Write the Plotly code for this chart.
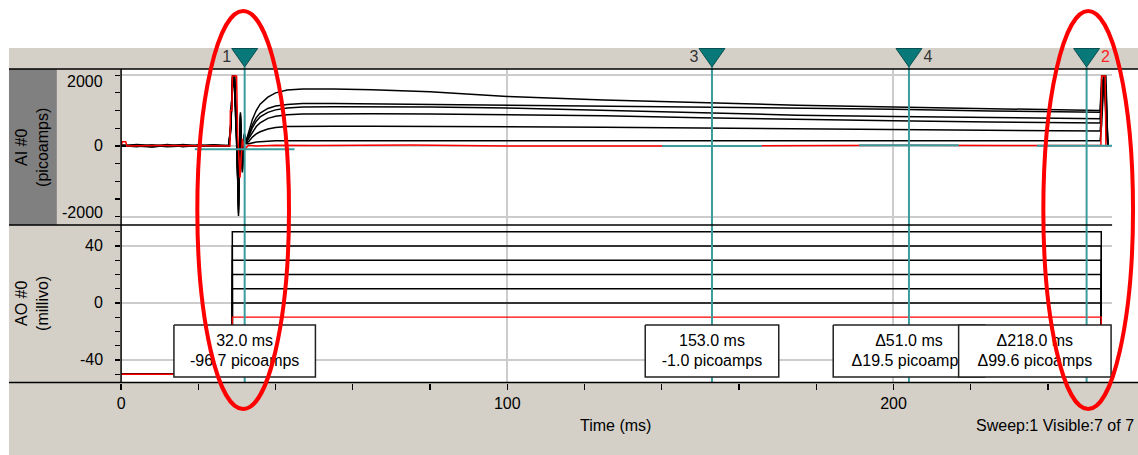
import plotly.graph_objects as go

W, H = 1138, 455

# ---------------- data ----------------
# AO command: holding potential and step levels of the 7 sweeps (sweep 1 = red)
ao_holding_mv = -50
ao_step_levels_mv = [-10, 0, 10, 20, 30, 40, 50]
ao_step_on_ms = 28.8
ao_step_off_ms = 253.8
sweep_end_ms = 256.6

# AI current, black sweeps 2..7 share this time base (ms)
ai_t_ms = [0, 4, 8, 12, 16, 20, 24, 27.9,
           28.4, 28.9, 29.4, 29.9, 30.4, 30.9, 31.4, 31.9, 32.4,
           33, 34, 35, 36, 38, 40, 43, 47,
           55, 65, 80, 100, 125, 150, 175, 200, 225, 250,
           253.5, 253.9, 254.5, 255.0, 255.5]
ai_sweep2_pa = [0, 30, -20, 20, 0, 30, -10, 0,
                400, 1980, 1500, 200, -1200, 600, -400, 200, 60,
                60, 90, 110, 120, 135, 145, 150, 150,
                150, 150, 145, 165, 160, 150, 145, 150, 150, 150,
                150, 600, 1980, 800, 0]
ai_sweep3_pa = [10, -20, 30, 0, 20, -10, 30, 0,
                500, 1980, 1700, 300, -1500, 700, -500, 250, 80,
                120, 250, 340, 400, 480, 520, 550, 560,
                560, 555, 550, 545, 530, 505, 480, 460, 440, 420,
                420, 900, 1980, 1000, 0]
ai_sweep4_pa = [-10, 20, 0, 40, -20, 10, 0, 20,
                550, 1980, 1800, 350, -1700, 800, -600, 300, 100,
                200, 400, 550, 650, 780, 840, 880, 900,
                910, 910, 905, 890, 850, 800, 750, 710, 680, 650,
                650, 1200, 1980, 1300, 0]
ai_sweep5_pa = [20, 0, -30, 10, 30, 0, 20, -10,
                580, 1980, 1900, 380, -1800, 850, -650, 300, 120,
                250, 520, 700, 820, 950, 1020, 1070, 1100,
                1110, 1110, 1100, 1070, 1000, 930, 870, 830, 800, 770,
                770, 1500, 1980, 1500, 0]
ai_sweep6_pa = [0, 40, 10, -20, 0, 20, 30, 0,
                600, 1980, 1980, 400, -1900, 900, -700, 320, 130,
                300, 600, 800, 930, 1060, 1130, 1170, 1200,
                1200, 1190, 1170, 1140, 1120, 1100, 1075, 1040, 990, 950,
                950, 1700, 1980, 1700, 0]
ai_sweep7_pa = [30, 0, 20, -10, 40, 0, 10, 20,
                650, 1980, 1980, 450, -1980, 950, -750, 350, 150,
                350, 750, 1000, 1180, 1380, 1500, 1580, 1610,
                1610, 1590, 1530, 1400, 1300, 1220, 1150, 1100, 1050, 1000,
                1000, 1980, 1980, 1980, 0]

# AI current, red sweep 1
ai_red_t_ms = [0, 0.3, 1.2, 1.5, 10, 20, 28.2, 28.3, 28.7, 28.8, 29.9, 30.2,
               30.8, 31.4, 32, 33, 35, 40, 50, 75, 100, 153, 180, 204, 230,
               250, 253.7, 253.9, 254.8, 255.0, 255.5]
ai_red_pa = [0, 120, 120, 0, 10, 0, 0, 1000, 1000, 1980, 1980, 300,
             -900, 200, -96.7, 20, 0, 20, 10, 30, 0, -1.0, 20, 18.5, 10,
             2.9, 10, 1980, 1980, 10, 0]

# cursors
cursor_names = ["1", "3", "4", "2"]
cursor_ms = [32.0, 153.0, 204.0, 250.0]
cursor_pa = [-96.7, -1.0, 18.5, 2.9]
cursor_name_colors = ["#333333", "#333333", "#333333", "#ff2020"]

# axis labels / ticks
x_tick_vals = [0, 100, 200]
ai_label_vals = [2000, 0, -2000]
ao_label_vals = [40, 0, -40]

# ---------------- layout geometry (pixels) ----------------
X0_PX, X1_PX = 117.5, 1112.0
AI_TOP, AI_BOT = 69.0, 225.0
AO_TOP, AO_BOT = 225.0, 382.5
x_range = [0, 256.6]
ai_range = [-2235, 2175]
ao_range = [-55.8, 54.7]

FONT = "Liberation Sans, Arial, sans-serif"
TEAL = "#3a9c9c"
GRAY = "#d4d0c8"


def fx(px):
    return px / W


def fy(py):
    return 1 - py / H


def px_of_ms(t):
    return X0_PX + (t - x_range[0]) / (x_range[1] - x_range[0]) * (X1_PX - X0_PX)


fig = go.Figure()

# ---- AI traces (top panel) ----
black_sweeps = [ai_sweep2_pa, ai_sweep3_pa, ai_sweep4_pa, ai_sweep5_pa, ai_sweep6_pa, ai_sweep7_pa]
for ys in black_sweeps:
    fig.add_trace(go.Scatter(x=ai_t_ms, y=ys, mode="lines", line=dict(color="black", width=1.5),
                             xaxis="x", yaxis="y", showlegend=False, hoverinfo="skip"))
fig.add_trace(go.Scatter(x=ai_red_t_ms, y=ai_red_pa, mode="lines", line=dict(color="#ff0000", width=1.5),
                         xaxis="x", yaxis="y", showlegend=False, hoverinfo="skip"))

# cursor horizontal measurement segments
half_seg_ms = 50 / ((X1_PX - X0_PX) / (x_range[1] - x_range[0]))
for t, v in zip(cursor_ms, cursor_pa):
    fig.add_trace(go.Scatter(x=[t - half_seg_ms, t + half_seg_ms], y=[v, v], mode="lines",
                             line=dict(color=TEAL, width=2), xaxis="x", yaxis="y",
                             showlegend=False, hoverinfo="skip"))

# ---- AO traces (bottom panel) ----
ao_t = [0, ao_step_on_ms, ao_step_on_ms, ao_step_off_ms, ao_step_off_ms, sweep_end_ms]
for lvl in ao_step_levels_mv[1:]:
    fig.add_trace(go.Scatter(x=ao_t, y=[ao_holding_mv, ao_holding_mv, lvl, lvl, ao_holding_mv, ao_holding_mv],
                             mode="lines", line=dict(color="black", width=1.5), xaxis="x2", yaxis="y2",
                             showlegend=False, hoverinfo="skip"))
lvl = ao_step_levels_mv[0]
fig.add_trace(go.Scatter(x=ao_t, y=[ao_holding_mv, ao_holding_mv, lvl, lvl, ao_holding_mv, ao_holding_mv],
                         mode="lines", line=dict(color="#ff0000", width=1.3), xaxis="x2", yaxis="y2",
                         showlegend=False, hoverinfo="skip"))

# ---- overlay (pixel space): cursors, triangles, readout boxes ----
for name, t, col in zip(cursor_names, cursor_ms, cursor_name_colors):
    cx = px_of_ms(t)
    fig.add_trace(go.Scatter(x=[cx, cx], y=[67, AO_BOT], mode="lines", line=dict(color=TEAL, width=2),
                             xaxis="x3", yaxis="y3", showlegend=False, hoverinfo="skip"))
    fig.add_trace(go.Scatter(x=[cx - 13, cx + 13, cx, cx - 13], y=[48.5, 48.5, 67, 48.5], mode="lines",
                             fill="toself", fillcolor="#087878", line=dict(color="#0a4f4f", width=1),
                             xaxis="x3", yaxis="y3", showlegend=False, hoverinfo="skip"))
    dx = -18 if name in ("1", "3") else 19
    fig.add_trace(go.Scatter(x=[cx + dx], y=[58], mode="text", text=[name],
                             textfont=dict(family=FONT, size=16, color=col),
                             xaxis="x3", yaxis="y3", showlegend=False, hoverinfo="skip"))

c1, c3, c4, c2 = cursor_ms
v1, v3, v4, v2 = cursor_pa
box_texts = [
    f"{c1:.1f} ms<br>{v1:.1f} picoamps",
    f"{c3:.1f} ms<br>{v3:.1f} picoamps",
    f"\u0394{c4 - c3:.1f} ms<br>\u0394{v4 - v3:.1f} picoamps",
    f"\u0394{c2 - c1:.1f} ms<br>\u0394{v2 - v1:.1f} picoamps",
]
box_centers = [px_of_ms(c1), px_of_ms(c3), px_of_ms(c4), 1034.5]
box_widths = [142, 134, 152, 153]
BOX_T, BOX_B = 325, 377
for txt, cx, bw in zip(box_texts, box_centers, box_widths):
    l, r = cx - bw / 2, cx + bw / 2
    fig.add_trace(go.Scatter(x=[l, r, r, l, l], y=[BOX_T, BOX_T, BOX_B, BOX_B, BOX_T], mode="lines",
                             fill="toself", fillcolor="white", line=dict(color="#222222", width=1.5),
                             xaxis="x3", yaxis="y3", showlegend=False, hoverinfo="skip"))
    fig.add_trace(go.Scatter(x=[cx], y=[(BOX_T + BOX_B) / 2 + 1], mode="text", text=[txt],
                             textfont=dict(family=FONT, size=16, color="black"),
                             xaxis="x3", yaxis="y3", showlegend=False, hoverinfo="skip"))

# ---------------- shapes ----------------
shapes = []
shapes.append(dict(type="rect", xref="paper", yref="paper", x0=fx(5), x1=1, y0=0, y1=fy(48),
                   fillcolor=GRAY, line=dict(width=0), layer="below"))
shapes.append(dict(type="rect", xref="paper", yref="paper", x0=fx(X0_PX), x1=1, y0=fy(AO_BOT), y1=fy(AI_TOP),
                   fillcolor="white", line=dict(width=0), layer="below"))
shapes.append(dict(type="rect", xref="paper", yref="paper", x0=fx(5), x1=fx(53), y0=fy(AI_BOT), y1=fy(AI_TOP),
                   fillcolor="#808080", line=dict(width=0), layer="below"))
for (xa, xb, ya, yb) in [(5, W, AI_TOP, AI_TOP), (5, X1_PX, AI_BOT, AI_BOT), (5, W, AO_BOT, AO_BOT),
                         (X0_PX, X0_PX, AI_TOP, AO_BOT)]:
    shapes.append(dict(type="line", xref="paper", yref="paper", x0=fx(xa), x1=fx(xb), y0=fy(ya), y1=fy(yb),
                       line=dict(color="black", width=1.5), layer="above"))
for (xa, xb, ya, yb) in [(194, 286, 11, 409), (1043, 1133, 11, 409)]:
    shapes.append(dict(type="circle", xref="paper", yref="paper", x0=fx(xa), x1=fx(xb), y0=fy(yb), y1=fy(ya),
                       line=dict(color="#ff0000", width=4), fillcolor="rgba(0,0,0,0)", layer="above"))

# ---------------- annotations ----------------
ann = []
for v in ai_label_vals:
    shift = -6 if v > 0 else (4 if v < 0 else 0)
    ann.append(dict(xref="paper", yref="y", x=fx(101), y=v, yshift=shift, text=str(v), showarrow=False,
                    xanchor="right", yanchor="middle", font=dict(family=FONT, size=16, color="black")))
for v in ao_label_vals:
    ann.append(dict(xref="paper", yref="y2", x=fx(101), y=v, text=str(v), showarrow=False,
                    xanchor="right", yanchor="middle", font=dict(family=FONT, size=16, color="black")))
ann.append(dict(xref="paper", yref="paper", x=fx(28), y=fy(147), text="AI #0<br>(picoamps)", textangle=-90,
                xanchor="center", yanchor="middle",
                showarrow=False, font=dict(family=FONT, size=16, color="black")))
ann.append(dict(xref="paper", yref="paper", x=fx(28), y=fy(303), text="AO #0<br>(millivo)", textangle=-90,
                xanchor="center", yanchor="middle",
                showarrow=False, font=dict(family=FONT, size=16, color="black")))
ann.append(dict(xref="paper", yref="paper", x=fx(614), y=fy(425), text="Time (ms)", showarrow=False,
                xanchor="center", yanchor="middle", font=dict(family=FONT, size=16, color="black")))
ann.append(dict(xref="paper", yref="paper", x=fx(1136), y=fy(425), text="Sweep:1 Visible:7 of 7",
                showarrow=False, xanchor="right", yanchor="middle", font=dict(family=FONT, size=16, color="black")))

grid = dict(showgrid=True, gridcolor="#cccccc", gridwidth=2, zeroline=False, showline=False, fixedrange=True)

fig.update_layout(
    width=W, height=H, autosize=False,
    margin=dict(l=0, r=0, t=0, b=0, pad=0),
    paper_bgcolor="white", plot_bgcolor="rgba(0,0,0,0)",
    showlegend=False,
    xaxis=dict(domain=[fx(X0_PX), fx(X1_PX)], range=x_range, anchor="y", tickvals=[100, 200],
               showticklabels=False, ticks="", **grid),
    yaxis=dict(domain=[fy(AI_BOT), fy(AI_TOP)], range=ai_range, anchor="x", tickvals=ai_label_vals,
               showticklabels=False, ticks="outside", ticklen=5, tickcolor="black", tickwidth=1.2,
               minor=dict(dtick=500, tick0=0, ticks="outside", ticklen=5, tickcolor="black", showgrid=False),
               **grid),
    xaxis2=dict(domain=[fx(X0_PX), fx(X1_PX)], range=x_range, anchor="y2", tickvals=x_tick_vals,
                ticktext=[str(v) for v in x_tick_vals], ticks="outside", ticklen=6, tickcolor="black",
                tickwidth=1.2, ticklabelstandoff=0,
                tickfont=dict(family=FONT, size=16, color="black"),
                minor=dict(dtick=20, tick0=0, ticks="outside", ticklen=6, tickcolor="black", showgrid=False),
                **grid),
    yaxis2=dict(domain=[fy(AO_BOT), fy(AO_TOP)], range=ao_range, anchor="x2", tickvals=ao_label_vals,
                showticklabels=False, ticks="outside", ticklen=5, tickcolor="black", tickwidth=1.2,
                minor=dict(dtick=10, tick0=0, ticks="outside", ticklen=5, tickcolor="black", showgrid=False),
                **grid),
    xaxis3=dict(domain=[0, 1], range=[0, W], anchor="y3", visible=False, fixedrange=True),
    yaxis3=dict(domain=[0, 1], range=[H, 0], anchor="x3", visible=False, fixedrange=True),
    shapes=shapes,
    annotations=ann,
)

fig.write_html("out.html", config={"displayModeBar": False, "staticPlot": True},
               post_script="document.body.style.margin='0';document.body.style.overflow='hidden';")
